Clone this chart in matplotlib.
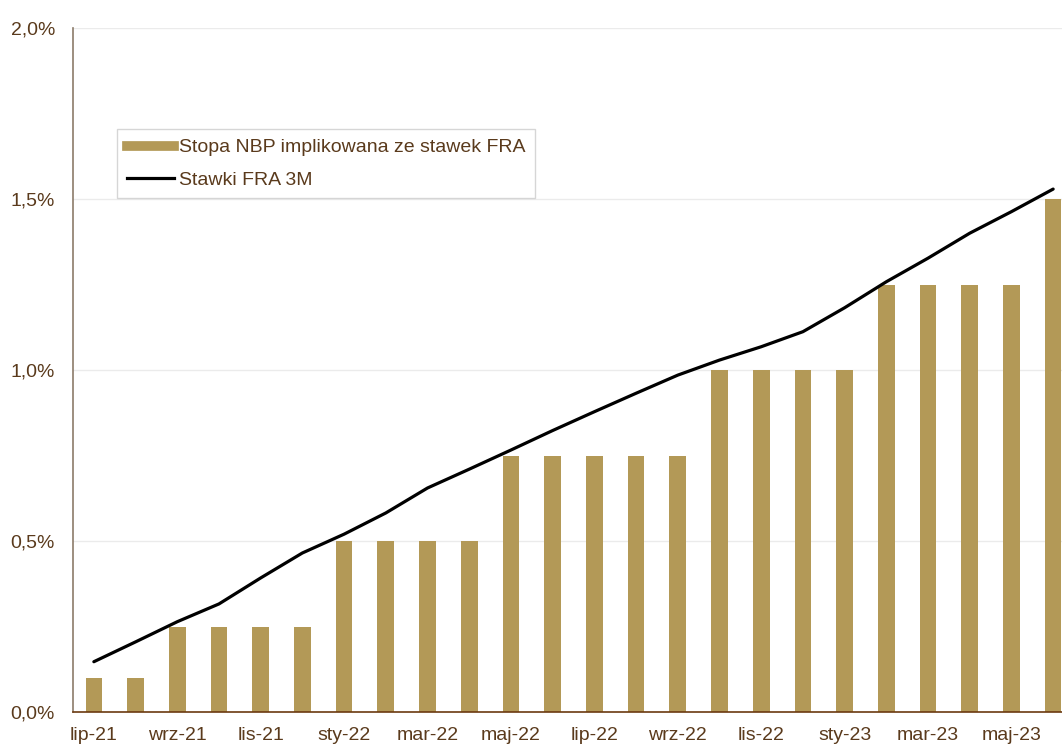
import matplotlib
matplotlib.use("Agg")
import matplotlib.pyplot as plt
from matplotlib.lines import Line2D
from matplotlib.ticker import FuncFormatter

months = ["lip-21", "sie-21", "wrz-21", "paź-21", "lis-21", "gru-21",
          "sty-22", "lut-22", "mar-22", "kwi-22", "maj-22", "cze-22",
          "lip-22", "sie-22", "wrz-22", "paź-22", "lis-22", "gru-22",
          "sty-23", "lut-23", "mar-23", "kwi-23", "maj-23", "cze-23"]
nbp_rate = [0.10, 0.10, 0.25, 0.25, 0.25, 0.25, 0.50, 0.50, 0.50, 0.50,
            0.75, 0.75, 0.75, 0.75, 0.75, 1.00, 1.00, 1.00, 1.00, 1.25,
            1.25, 1.25, 1.25, 1.50]
fra_3m = [0.147, 0.205, 0.264, 0.316, 0.392, 0.465, 0.520, 0.582, 0.655, 0.710,
          0.766, 0.823, 0.878, 0.932, 0.985, 1.029, 1.068, 1.112, 1.182, 1.258,
          1.327, 1.400, 1.463, 1.529]
yticks = [0.0, 0.5, 1.0, 1.5, 2.0]

plt.rcParams['font.family'] = ['Liberation Sans', 'DejaVu Sans']
txt = '#5a3a1c'
bar_c = '#B39957'

fig = plt.figure(figsize=(10.62, 7.44), dpi=100)
ax = fig.add_axes([73/1062, 32/744, 1001/1062, 684/744])

x = list(range(len(months)))
ax.bar(x, nbp_rate, width=0.4, color=bar_c, zorder=2)
ax.plot(x, fra_3m, color='black', lw=2.3, zorder=3, solid_capstyle='round')

ax.set_xlim(-0.5, len(months) - 0.5)
ax.set_ylim(0, 2.0)
ax.set_yticks(yticks)
ax.yaxis.set_major_formatter(FuncFormatter(lambda v, p: f"{v:.1f}%".replace('.', ',')))
ax.set_xticks(x[::2])
ax.set_xticklabels(months[::2])
ax.tick_params(axis='y', length=0, pad=13, labelsize=14, labelcolor=txt)
ax.tick_params(axis='x', length=0, pad=11, labelsize=14, labelcolor=txt)
ax.grid(axis='y', color='#ebebeb', lw=1, zorder=0)
ax.set_axisbelow(True)
for s in ['top', 'right']:
    ax.spines[s].set_visible(False)
ax.spines['left'].set_color('#8c7b6a')
ax.spines['left'].set_linewidth(1.2)
ax.spines['bottom'].set_color('#6b3a10')
ax.spines['bottom'].set_linewidth(1.2)

handles = [Line2D([0], [0], color=bar_c, lw=7),
           Line2D([0], [0], color='black', lw=2.3)]
leg = ax.legend(handles, ["Stopa NBP implikowana ze stawek FRA", "Stawki FRA 3M"],
                loc='upper left', bbox_to_anchor=(117/1062, 1 - 129/744),
                bbox_transform=fig.transFigure, fontsize=14, frameon=True,
                fancybox=False, edgecolor='#cccccc', handlelength=2.45,
                handletextpad=0.25, borderpad=0.5, labelspacing=0.75,
                borderaxespad=0)
for t in leg.get_texts():
    t.set_color(txt)
leg.get_frame().set_linewidth(1.0)

fig.savefig("out.png", dpi=100)
